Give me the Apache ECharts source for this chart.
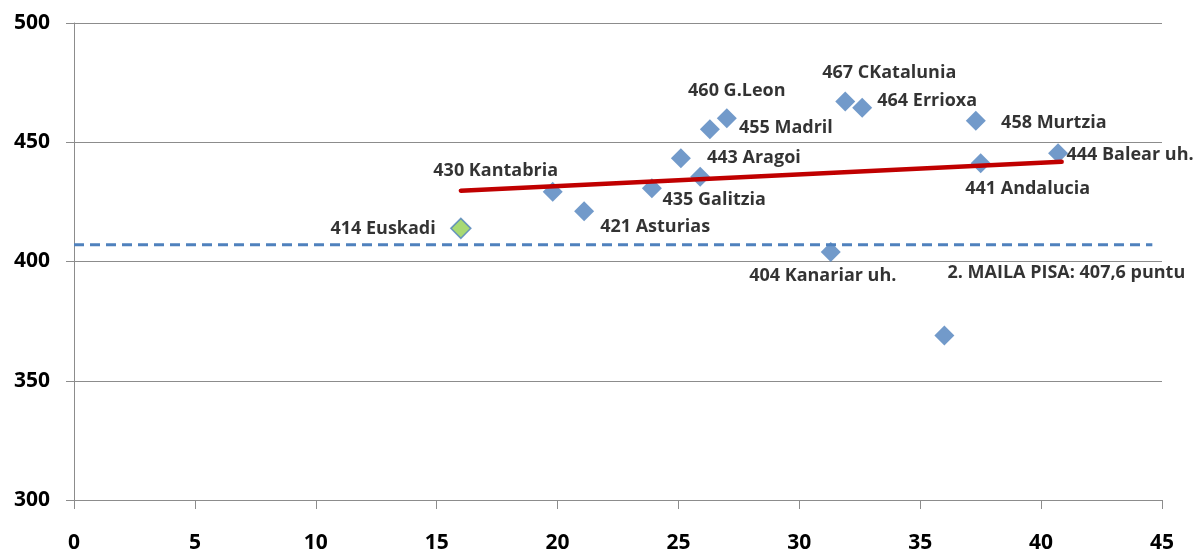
<!DOCTYPE html>
<html>
<head>
<meta charset="utf-8">
<script src="https://cdn.jsdelivr.net/npm/echarts@6/dist/echarts.min.js"></script>
<style>
html,body{margin:0;padding:0;background:#fff;}
#chart{width:1195px;height:551px;}
</style>
</head>
<body>
<div id="chart"></div>
<script>
// ---- data ----
const regionNames = ["Euskadi","Kantabria","Asturias","Unlabeled A","Aragoi","Galitzia","Madril","G.Leon","Kanariar uh.","CKatalunia","Errioxa","Unlabeled B","Murtzia","Andalucia","Balear uh."];
const regionLabels = ["414 Euskadi","430 Kantabria","421 Asturias","","443 Aragoi","435 Galitzia","455 Madril","460 G.Leon","404 Kanariar uh.","467 CKatalunia","464 Errioxa","","458 Murtzia","441 Andalucia","444 Balear uh."];
const xValues = [16.0, 19.8, 21.1, 23.9, 25.1, 25.9, 26.3, 27.0, 31.3, 31.9, 32.6, 36.0, 37.3, 37.5, 40.7];
const yValues = [413.9, 429.2, 421.1, 430.7, 443.3, 435.5, 455.5, 460.1, 404.0, 467.1, 464.5, 369.0, 459.0, 441.2, 445.4];
const trendX = [16.0, 40.85];
const trendY = [429.7, 441.8];
const pisaLevelX = [0, 44.6];
const pisaLevelY = 407;
const pisaLabel = "2. MAILA PISA: 407,6 puntu";
const xTicks = {min: 0, max: 45, interval: 5};
const yTicks = {min: 300, max: 500, interval: 50};

// ---- label placement (style, not data): offset of label centre from the marker centre ----
const labelOffsets = {
  "Euskadi": [-77, 1],
  "Kantabria": [-57, -21],
  "Asturias": [71, 16],
  "Aragoi": [73, 0],
  "Galitzia": [14, 23],
  "Madril": [76, -1],
  "G.Leon": [10, -27],
  "Kanariar uh.": [-8, 24],
  "CKatalunia": [44, -29],
  "Errioxa": [65, -7],
  "Murtzia": [78, 2],
  "Andalucia": [47, 26],
  "Balear uh.": [72, 2]
};
const FONT = '"Open Sans", "Noto Sans", sans-serif';
const blue = '#4f81bd';
const SYM = 20;
const labelBase = { color: '#000', fontFamily: FONT, fontWeight: 'bold', fontSize: 18, align: 'center', verticalAlign: 'middle' };

const scatterData = regionNames.map((n, i) => {
  const item = { name: n, value: [xValues[i], yValues[i]] };
  if (n === 'Euskadi') {
    item.itemStyle = { color: '#92d050', borderColor: blue, borderWidth: 1.5 };
  }
  const off = labelOffsets[n];
  if (regionLabels[i] && off) {
    item.label = Object.assign({}, labelBase, { show: true, position: [SYM / 2 + off[0], SYM / 2 + off[1]], formatter: regionLabels[i] });
  }
  return item;
});

const chart = echarts.init(document.getElementById('chart'), null, {renderer: 'canvas'});
chart.setOption({
  animation: false,
  backgroundColor: '#fff',
  grid: { left: 74, right: 33, top: 23, bottom: 51, containLabel: false, outerBoundsMode: 'none' },
  xAxis: {
    type: 'value', min: xTicks.min, max: xTicks.max, interval: xTicks.interval,
    axisLine: { show: true, onZero: false, lineStyle: { color: '#8c8c8c', width: 1 } },
    axisTick: { show: true, inside: false, length: 9, lineStyle: { color: '#8c8c8c' } },
    splitLine: { show: false },
    axisLabel: { color: '#000', fontFamily: FONT, fontWeight: 'bold', fontSize: 21, margin: 33 }
  },
  yAxis: {
    type: 'value', min: yTicks.min, max: yTicks.max, interval: yTicks.interval,
    axisLine: { show: true, lineStyle: { color: '#8c8c8c', width: 1 } },
    axisTick: { show: true, length: 8, lineStyle: { color: '#8c8c8c' } },
    splitLine: { show: true, lineStyle: { color: '#8c8c8c', width: 1 } },
    axisLabel: { color: '#000', fontFamily: FONT, fontWeight: 'bold', fontSize: 21, margin: 24 }
  },
  series: [
    {
      type: 'line', z: 1,
      data: [[pisaLevelX[0], pisaLevelY], [pisaLevelX[1], pisaLevelY]],
      symbol: 'none',
      lineStyle: { color: blue, width: 3, type: [10, 6] },
      emphasis: { disabled: true }, silent: true
    },
    {
      type: 'scatter', z: 2,
      data: [{ value: [pisaLevelX[1], pisaLevelY], label: Object.assign({}, labelBase, { show: true, position: [-85, 29], formatter: pisaLabel }) }],
      symbol: 'rect', symbolSize: 2,
      itemStyle: { color: 'rgba(0,0,0,0)' },
      emphasis: { disabled: true }, silent: true
    },
    {
      type: 'scatter', z: 3,
      data: scatterData,
      symbol: 'diamond', symbolSize: SYM,
      itemStyle: { color: blue },
      label: Object.assign({}, labelBase, { show: false }),
      emphasis: { disabled: true }, silent: true
    },
    {
      type: 'line', z: 4,
      data: trendX.map((x, i) => [x, trendY[i]]),
      symbol: 'none',
      lineStyle: { color: '#c00000', width: 4.5, cap: 'round' },
      emphasis: { disabled: true }, silent: true
    }
  ]
});
</script>
</body>
</html>
